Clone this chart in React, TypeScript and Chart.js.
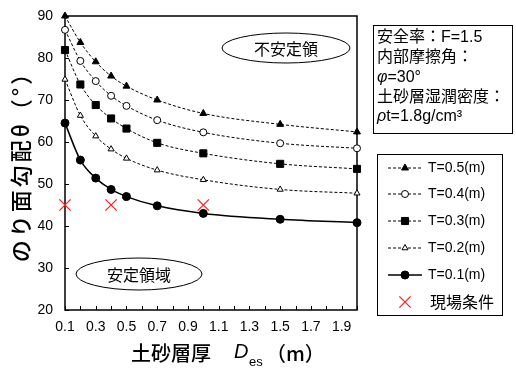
import React, { useEffect, useRef } from "react";
import { Chart, registerables } from "chart.js";

Chart.register(...registerables);

// ---- data ----
const xValues = [0.1, 0.2, 0.3, 0.4, 0.5, 0.7, 1.0, 1.5, 2.0];
const t05 = [90.0, 83.7, 79.1, 75.7, 73.3, 70.0, 66.8, 64.2, 62.4];
const t04 = [86.7, 79.3, 74.5, 71.0, 68.6, 65.2, 62.3, 59.7, 58.5];
const t03 = [81.9, 73.7, 68.8, 65.6, 63.2, 59.8, 57.3, 54.8, 53.6];
const t02 = [74.9, 66.3, 61.4, 58.3, 56.1, 53.3, 51.0, 48.7, 47.8];
const t01 = [64.5, 55.7, 51.4, 48.7, 47.0, 44.8, 43.0, 41.6, 40.8];
const fieldX = [0.1, 0.4, 1.0];
const fieldY = [45, 45, 45];

const seriesLabels = ["T=0.5(m)", "T=0.4(m)", "T=0.3(m)", "T=0.2(m)", "T=0.1(m)", "現場条件"];
const xTickLabels = [0.1, 0.3, 0.5, 0.7, 0.9, 1.1, 1.3, 1.5, 1.7, 1.9];
const xMinorTicks = [0.1, 0.2, 0.3, 0.4, 0.5, 0.6, 0.7, 0.8, 0.9, 1.0, 1.1, 1.2, 1.3, 1.4, 1.5, 1.6, 1.7, 1.8, 1.9, 2.0];
const yTickValues = [20, 30, 40, 50, 60, 70, 80, 90];
const infoLines = ["安全率：F=1.5", "内部摩擦角：", "φ=30°", "土砂層湿潤密度：", "ρt=1.8g/cm³"];

const LATIN = '"Liberation Sans", Arial, "Noto Sans CJK JP"';
const CJK = '"Noto Sans CJK JP", "Liberation Sans"';

function pts(ys: number[], xs: number[] = xValues) {
  return ys.map((y, i) => ({ x: xs[i], y }));
}

function drawMarker(
  ctx: CanvasRenderingContext2D,
  style: string,
  r: number,
  x: number,
  y: number,
  fill: string,
  stroke: string,
  lw: number
) {
  ctx.save();
  ctx.setLineDash([]);
  ctx.lineWidth = lw;
  ctx.fillStyle = fill;
  ctx.strokeStyle = stroke;
  ctx.beginPath();
  if (style === "circle") {
    ctx.arc(x, y, r, 0, Math.PI * 2);
    ctx.fill();
    ctx.stroke();
  } else if (style === "triangle") {
    let a = 0;
    ctx.moveTo(x + Math.sin(a) * r, y - Math.cos(a) * r);
    a += (2 * Math.PI) / 3;
    ctx.lineTo(x + Math.sin(a) * r, y - Math.cos(a) * r);
    a += (2 * Math.PI) / 3;
    ctx.lineTo(x + Math.sin(a) * r, y - Math.cos(a) * r);
    ctx.closePath();
    ctx.fill();
    ctx.stroke();
  } else if (style === "rect") {
    const s = Math.SQRT1_2 * r;
    ctx.rect(x - s, y - s, 2 * s, 2 * s);
    ctx.fill();
    ctx.stroke();
  } else if (style === "crossRot") {
    const o = Math.SQRT1_2 * r;
    ctx.moveTo(x - o, y - o);
    ctx.lineTo(x + o, y + o);
    ctx.moveTo(x + o, y - o);
    ctx.lineTo(x - o, y + o);
    ctx.stroke();
  }
  ctx.restore();
}

const decorPlugin = {
  id: "decor",
  beforeDatasetsDraw(chart: any) {
    const { ctx, chartArea } = chart;
    const { left, right, top, bottom } = chartArea;
    const xs = chart.scales.x;
    const ys = chart.scales.y;
    ctx.save();
    ctx.strokeStyle = "#000";
    ctx.lineWidth = 1;
    ctx.beginPath();
    xMinorTicks.forEach((v) => {
      const px = Math.round(xs.getPixelForValue(v)) + 0.5;
      ctx.moveTo(px, bottom);
      ctx.lineTo(px, bottom - 4);
    });
    yTickValues.forEach((v) => {
      const py = Math.round(ys.getPixelForValue(v)) + 0.5;
      ctx.moveTo(left, py);
      ctx.lineTo(left + 4, py);
    });
    ctx.stroke();
    ctx.lineWidth = 1.5;
    ctx.strokeRect(left, top, right - left, bottom - top);
    ctx.restore();
  },
  afterDraw(chart: any) {
    const { ctx, chartArea } = chart;
    const { left, top } = chartArea;
    ctx.save();
    ctx.fillStyle = "#000";
    ctx.strokeStyle = "#000";

    const ell = (cx: number, cy: number, rx: number, ry: number, text: string) => {
      ctx.save();
      ctx.lineWidth = 1;
      ctx.beginPath();
      ctx.ellipse(cx, cy, rx, ry, 0, 0, Math.PI * 2);
      ctx.fillStyle = "#fff";
      ctx.fill();
      ctx.stroke();
      ctx.fillStyle = "#000";
      ctx.font = `16px ${CJK}`;
      ctx.textAlign = "center";
      ctx.textBaseline = "middle";
      ctx.fillText(text, cx, cy + 1);
      ctx.restore();
    };
    ell(left + 221, top + 32, 64, 15, "不安定領");
    ell(left + 74, top + 258, 63, 16, "安定領域");

    // info box
    ctx.save();
    ctx.lineWidth = 1;
    ctx.strokeRect(373.5, 25.5, 139, 108);
    ctx.font = `16px ${LATIN}`;
    ctx.textBaseline = "middle";
    ctx.textAlign = "left";
    const lineYs = [38, 58, 78, 98, 117];
    infoLines.forEach((t, i) => {
      const first = t.charAt(0);
      if (first === "φ" || first === "ρ") {
        ctx.font = `italic 16px ${LATIN}`;
        ctx.fillText(first, 377, lineYs[i]);
        const w = ctx.measureText(first).width;
        ctx.font = `16px ${LATIN}`;
        ctx.fillText(t.slice(1), 377 + w, lineYs[i]);
      } else {
        ctx.fillText(t, 377, lineYs[i]);
      }
    });
    ctx.restore();

    // legend
    ctx.save();
    ctx.lineWidth = 1;
    ctx.strokeStyle = "#000";
    ctx.strokeRect(377.5, 154.5, 125, 161);
    const rowYs = [168, 194, 221, 248, 275, 302];
    chart.data.datasets.forEach((ds: any, i: number) => {
      const y = rowYs[i];
      if (ds.showLine !== false) {
        ctx.save();
        ctx.strokeStyle = ds.borderColor;
        ctx.lineWidth = ds.borderWidth;
        ctx.setLineDash(ds.borderDash || []);
        ctx.beginPath();
        ctx.moveTo(388, y);
        ctx.lineTo(422, y);
        ctx.stroke();
        ctx.restore();
      }
      drawMarker(
        ctx,
        ds.pointStyle,
        ds.pointStyle === "crossRot" ? 8 : ds.pointRadius,
        405,
        y,
        ds.pointBackgroundColor,
        ds.pointBorderColor,
        ds.pointBorderWidth
      );
      ctx.fillStyle = "#000";
      ctx.textBaseline = "middle";
      ctx.textAlign = "left";
      if (ds.pointStyle === "crossRot") {
        ctx.font = `16px ${CJK}`;
        ctx.fillText(ds.label, 430, y);
      } else {
        ctx.font = `14px ${LATIN}`;
        ctx.fillText(ds.label, 428, y);
      }
    });
    ctx.restore();

    // x title
    ctx.save();
    ctx.fillStyle = "#000";
    ctx.textBaseline = "middle";
    ctx.textAlign = "left";
    ctx.font = `500 20px ${CJK}`;
    ctx.fillText("土砂層厚", 131, 353);
    ctx.font = `italic 20px ${LATIN}`;
    ctx.fillText("D", 234, 352);
    ctx.font = `13px ${LATIN}`;
    ctx.fillText("es", 249, 362);
    ctx.font = `500 20px ${CJK}`;
    ctx.fillText("（m）", 266, 353);
    ctx.restore();

    // y title
    ctx.save();
    ctx.translate(21, 161);
    ctx.rotate(-Math.PI / 2);
    ctx.fillStyle = "#000";
    ctx.textAlign = "center";
    ctx.textBaseline = "middle";
    ctx.font = `500 22px ${CJK}`;
    (ctx as any).letterSpacing = "3px";
    ctx.fillText("のり面勾配θ（°）", 0, 0);
    ctx.restore();

    ctx.restore();
  },
};

export default function App() {
  const ref = useRef<HTMLCanvasElement | null>(null);
  useEffect(() => {
    document.body.style.margin = "0";
    const canvas = ref.current;
    if (!canvas) return;
    const dashed = [3, 2];
    const common = {
      borderColor: "#000",
      pointBorderColor: "#000",
      pointBorderWidth: 1,
      borderWidth: 1,
      cubicInterpolationMode: "monotone",
      clip: false,
    };
    const chart = new Chart(canvas, {
      type: "scatter",
      data: {
        datasets: [
          { ...common, label: seriesLabels[0], data: pts(t05), showLine: true, borderDash: dashed, pointStyle: "triangle", pointRadius: 4, pointBackgroundColor: "#000" },
          { ...common, label: seriesLabels[1], data: pts(t04), showLine: true, borderDash: dashed, pointStyle: "circle", pointRadius: 3.5, pointBackgroundColor: "#fff" },
          { ...common, label: seriesLabels[2], data: pts(t03), showLine: true, borderDash: dashed, pointStyle: "rect", pointRadius: 5, pointBackgroundColor: "#000" },
          { ...common, label: seriesLabels[3], data: pts(t02), showLine: true, borderDash: dashed, pointStyle: "triangle", pointRadius: 3.5, pointBackgroundColor: "#fff" },
          { ...common, label: seriesLabels[4], data: pts(t01), showLine: true, borderWidth: 1.5, pointStyle: "circle", pointRadius: 4, pointBackgroundColor: "#000" },
          { label: seriesLabels[5], data: pts(fieldY, fieldX), showLine: false, pointStyle: "crossRot", pointRadius: 8, pointBorderWidth: 1.3, pointBorderColor: "#ff2020", pointBackgroundColor: "#ff2020", borderColor: "#ff2020", clip: false },
        ] as any,
      },
      options: {
        animation: false,
        responsive: false,
        events: [],
        layout: { padding: { left: 0, top: 16, right: 159, bottom: 0 } },
        plugins: { legend: { display: false }, tooltip: { enabled: false }, title: { display: false } },
        scales: {
          x: {
            type: "linear",
            min: 0.1,
            max: 2.0,
            grid: { display: false, drawTicks: false, tickLength: 0 },
            border: { display: false },
            afterBuildTicks: (s: any) => {
              s.ticks = xTickLabels.map((v) => ({ value: v }));
            },
            afterFit: (s: any) => {
              s.height = 60;
              s.paddingLeft = 0;
              s.paddingRight = 0;
            },
            ticks: {
              autoSkip: false,
              maxRotation: 0,
              padding: 9,
              color: "#000",
              font: { family: LATIN, size: 14 },
              callback: (v: any) => Number(v).toFixed(1),
            },
          },
          y: {
            type: "linear",
            min: 20,
            max: 90,
            grid: { display: false, drawTicks: false, tickLength: 0 },
            border: { display: false },
            afterBuildTicks: (s: any) => {
              s.ticks = yTickValues.map((v) => ({ value: v }));
            },
            afterFit: (s: any) => {
              s.width = 65;
              s.paddingTop = 0;
              s.paddingBottom = 0;
            },
            ticks: {
              padding: 12,
              color: "#000",
              font: { family: LATIN, size: 14 },
            },
          },
        },
      } as any,
      plugins: [decorPlugin],
    });
    return () => chart.destroy();
  }, []);
  return (
    <div style={{ position: "fixed", left: 0, top: 0, width: 516, height: 370, background: "#fff" }}>
      <canvas ref={ref} width={516} height={370} style={{ width: 516, height: 370 }} />
    </div>
  );
}
